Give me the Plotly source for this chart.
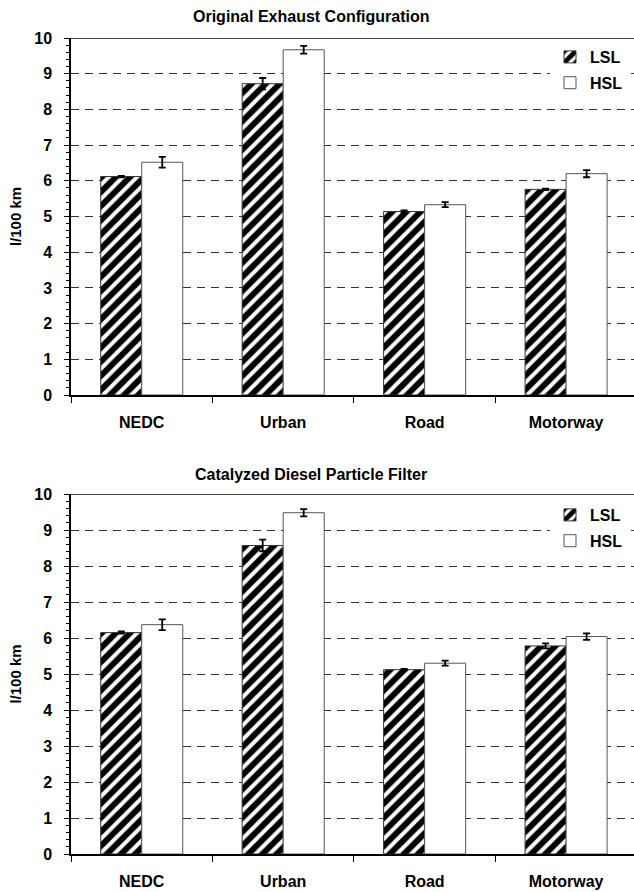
import plotly.graph_objects as go

categories = ["NEDC", "Urban", "Road", "Motorway"]

# Original Exhaust Configuration
orig_lsl = [6.12, 8.72, 5.14, 5.76]
orig_lsl_err = [0.02, 0.16, 0.03, 0.02]
orig_hsl = [6.52, 9.67, 5.33, 6.20]
orig_hsl_err = [0.15, 0.11, 0.07, 0.10]

# Catalyzed Diesel Particle Filter
cdpf_lsl = [6.15, 8.57, 5.12, 5.78]
cdpf_lsl_err = [0.03, 0.16, 0.02, 0.07]
cdpf_hsl = [6.37, 9.48, 5.30, 6.04]
cdpf_hsl_err = [0.15, 0.10, 0.07, 0.09]

titles = ["Original Exhaust Configuration", "Catalyzed Diesel Particle Filter"]
y_ticks = list(range(0, 11))

FONT = "Liberation Sans, Arial, sans-serif"
FS = 16
W, H = 634, 892

fig = go.Figure()

def err(arr):
    return dict(type="data", array=arr, visible=True, color="black", thickness=1.8, width=3.5)

panels = [
    (orig_lsl, orig_lsl_err, orig_hsl, orig_hsl_err, "x", "y", "legend"),
    (cdpf_lsl, cdpf_lsl_err, cdpf_hsl, cdpf_hsl_err, "x2", "y2", "legend2"),
]
for i, (lsl, lsle, hsl, hsle, xa, ya, lg) in enumerate(panels):
    fig.add_trace(go.Bar(
        x=categories, y=lsl, name="LSL", xaxis=xa, yaxis=ya, legend=lg,
        legendgroup=f"lsl{i}",
        marker=dict(color="white", line=dict(color="#333", width=1),
                    pattern=dict(shape="/", fgcolor="#000000", fgopacity=1, bgcolor="white",
                                 size=10, solidity=0.6)),
        error_y=err(lsle),
    ))
    fig.add_trace(go.Bar(
        x=categories, y=hsl, name="HSL", xaxis=xa, yaxis=ya, legend=lg,
        legendgroup=f"hsl{i}",
        marker=dict(color="white", line=dict(color="#555", width=1)),
        error_y=err(hsle),
    ))

x_left = 71 / W
dom_top = [(H - 395) / H, (H - 38) / H]
dom_bot = [(H - 854) / H, (H - 494) / H]

xcommon = dict(type="category", tickson="boundaries", ticks="outside", ticklen=6,
               tickcolor="black", tickwidth=1, showline=True, linecolor="black", linewidth=1.5,
               showgrid=False, range=[-0.5, 3.48], domain=[x_left, 1],
               tickfont=dict(family=FONT, size=FS, color="black", weight="bold"),
               ticklabelstandoff=12, automargin=False)
ycommon = dict(range=[0, 10], tickmode="array", tickvals=y_ticks, ticktext=[str(v) for v in y_ticks],
               ticks="outside", ticklen=5, tickcolor="black", tickwidth=1,
               showline=True, linecolor="black", linewidth=1.5,
               showgrid=True, gridcolor="#333", gridwidth=1, griddash="8px,6px",
               zeroline=False,
               minor=dict(dtick=0.2, ticks="outside", ticklen=3, tickcolor="black", showgrid=False),
               tickfont=dict(family=FONT, size=FS, color="black", weight="bold"),
               ticklabelstandoff=9, automargin=False,
               title=dict(text="l/100 km", font=dict(family=FONT, size=FS - 1, color="black", weight="bold"),
                          standoff=9))

legend_common = dict(xanchor="right", yanchor="top", bgcolor="white",
                     traceorder="grouped", tracegroupgap=2, itemwidth=30,
                     font=dict(family=FONT, size=FS, color="black", weight="bold"))

fig.update_layout(
    width=W, height=H,
    margin=dict(l=0, r=0, t=0, b=0),
    paper_bgcolor="white", plot_bgcolor="white",
    barmode="group", bargap=0.42, bargroupgap=0,
    showlegend=True,
    xaxis=dict(xcommon, anchor="y"),
    yaxis=dict(ycommon, domain=dom_top, anchor="x"),
    xaxis2=dict(xcommon, anchor="y2"),
    yaxis2=dict(ycommon, domain=dom_bot, anchor="x2"),
    legend=dict(legend_common, x=628 / W, y=(H - 40) / H),
    legend2=dict(legend_common, x=628 / W, y=(H - 498) / H),
)

# solid top border line at 10
for xa, ya in [("x", "y"), ("x2", "y2")]:
    fig.add_shape(type="line", xref=f"{xa} domain", yref=ya, x0=0, x1=1, y0=10, y1=10,
                  line=dict(color="black", width=1.5))

for t, yc in zip(titles, [16, 475]):
    fig.add_annotation(text=t, x=311 / W, y=(H - yc) / H, xref="paper", yref="paper",
                       showarrow=False, xanchor="center", yanchor="middle",
                       font=dict(family=FONT, size=FS, color="black", weight="bold"))

fig.write_html("out.html", config={"displayModeBar": False},
               post_script="document.body.style.margin='0';")
